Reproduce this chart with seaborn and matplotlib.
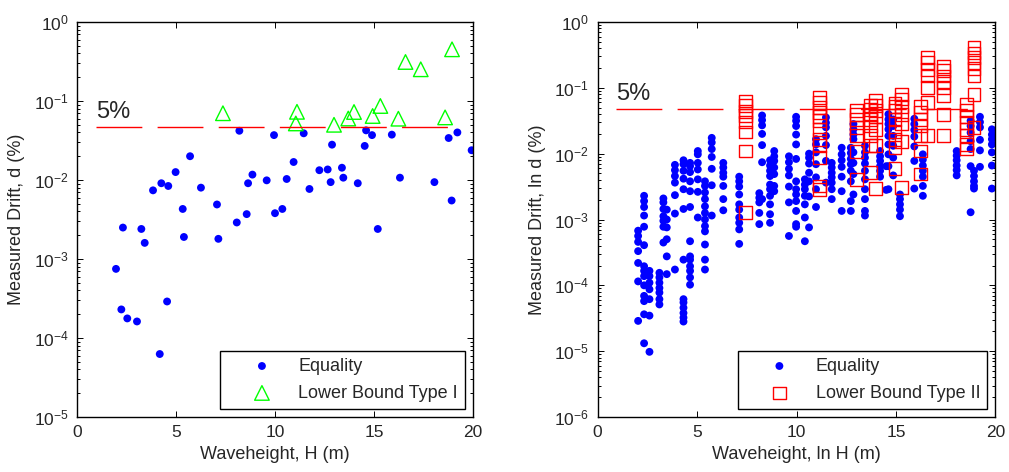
import numpy as np
import pandas as pd
import matplotlib
matplotlib.use('Agg')
import matplotlib.pyplot as plt
import seaborn as sns
from matplotlib.ticker import LogLocator, NullFormatter

# Left panel: waveheight H (m) vs measured drift d (%)
eq_H = [8.20, 9.95, 11.45, 12.88, 14.60, 14.90, 15.90, 14.53, 18.77, 19.21,
        19.93, 5.71, 4.98, 4.26, 4.61, 3.84, 6.26, 5.34, 7.07, 8.86,
        8.64, 9.58, 10.59, 10.94, 11.74, 12.24, 12.66, 12.81, 13.38, 13.45,
        14.18, 16.31, 18.05, 18.92, 8.57, 8.07, 10.00, 10.37, 2.32, 3.25,
        15.19, 5.40, 7.14, 3.42, 1.97, 4.55, 2.24, 2.54, 3.03, 4.18]
eq_d = [0.042, 0.037, 0.039, 0.028, 0.0425, 0.037, 0.0375, 0.027, 0.034, 0.040,
        0.0238, 0.020, 0.0126, 0.0091, 0.0084, 0.0074, 0.0080, 0.0043, 0.0049, 0.0117,
        0.0091, 0.0099, 0.0103, 0.0169, 0.0077, 0.0133, 0.0136, 0.0094, 0.0143, 0.0107,
        0.0091, 0.0107, 0.0094, 0.0055, 0.0037, 0.0029, 0.0038, 0.0043, 0.0025, 0.0024,
        0.0024, 0.0019, 0.0018, 0.0016, 0.00075, 0.00029, 0.00023, 0.000177, 0.000162, 0.0000627]
lb1_H = [7.37, 11.11, 11.05, 12.98, 13.70, 13.99, 14.93, 15.32, 16.23, 16.59, 17.36, 18.94, 18.59]
lb1_d = [0.070, 0.073, 0.052, 0.050, 0.060, 0.0726, 0.0646, 0.0865, 0.0597, 0.312, 0.252, 0.451, 0.062]

# Right panel: points come in columns (one H per column), drift read as log10 exponents
eq2_H = [2.04, 2.34, 2.61, 3.11, 3.31, 3.48, 3.89, 4.32, 4.65, 5.04,
         5.40, 5.74, 6.32, 7.12, 8.13, 8.27, 8.67, 8.88, 9.62, 9.98,
         10.42, 10.63, 10.98, 11.48, 11.77, 12.27, 12.73, 12.86, 13.44, 14.20,
         14.51, 14.62, 14.86, 15.20, 15.92, 16.35, 18.05, 18.75, 18.92, 19.22,
         19.82]
eq2_logd = [
    [-3.17, -3.25, -3.34, -3.48, -3.66, -3.94, -4.54],
    [-2.64, -2.72, -2.81, -2.94, -3.11, -3.39, -3.71, -3.78, -3.86, -4.0, -4.16, -4.24, -4.44, -4.88],
    [-3.78, -3.86, -3.96, -4.06, -4.21, -4.46, -5.01],
    [-3.81, -3.88, -3.96, -4.04, -4.11, -4.21, -4.29],
    [-2.68, -2.74, -2.84, -2.95, -3.02, -3.11, -3.35],
    [-2.85, -3.0, -3.12, -3.30, -3.56, -3.83],
    [-2.17, -2.25, -2.34, -2.44, -2.63, -2.91, -3.76],
    [-2.10, -2.16, -2.26, -2.38, -2.54, -2.84, -3.61, -4.21, -4.26, -4.34, -4.42, -4.49, -4.55],
    [-2.14, -2.19, -2.28, -2.42, -2.57, -2.81, -3.33, -3.56, -3.61, -3.71, -3.78, -3.88, -3.99],
    [-1.96, -2.01, -2.14, -2.24, -2.39, -2.58, -2.97],
    [-2.42, -2.49, -2.59, -2.69, -2.80, -2.90, -3.00, -3.10, -3.18, -3.38, -3.61, -3.76],
    [-1.76, -1.83, -1.93, -2.05, -2.23, -2.48, -2.94],
    [-2.14, -2.21, -2.29, -2.35, -2.49, -2.69, -2.86],
    [-2.35, -2.42, -2.50, -2.62, -2.77, -2.85, -2.97, -3.05, -3.15, -3.37],
    [-2.60, -2.67, -2.74, -2.90, -3.07],
    [-1.42, -1.49, -1.57, -1.70, -1.87, -2.13, -2.69],
    [-2.10, -2.18, -2.26, -2.34, -2.47, -2.54, -2.64, -2.77, -2.92, -3.05],
    [-1.96, -2.04, -2.11, -2.21, -2.31, -2.49, -2.57],
    [-2.04, -2.13, -2.23, -2.33, -2.50, -2.74, -3.25],
    [-1.44, -1.50, -1.58, -1.71, -1.86, -2.08, -2.42, -2.54, -2.62, -2.72, -2.87, -3.07, -3.11],
    [-2.39, -2.47, -2.54, -2.64, -2.77, -2.97, -3.33],
    [-2.0, -2.06, -2.15, -2.29, -2.42, -2.65, -3.12],
    [-1.78, -1.86, -1.98, -2.16, -2.36, -2.54, -2.81],
    [-1.45, -1.53, -1.60, -1.73, -1.87, -2.11, -2.44],
    [-2.14, -2.21, -2.29, -2.36, -2.44, -2.54, -2.69],
    [-1.91, -2.01, -2.10, -2.20, -2.35, -2.57, -2.87],
    [-1.91, -1.99, -2.08, -2.16, -2.26, -2.42, -2.72, -2.87],
    [-1.55, -1.63, -1.71, -1.78, -1.98, -2.14, -2.31, -2.62],
    [-1.88, -1.98, -2.06, -2.15, -2.26, -2.39, -2.54, -2.69, -2.87, -2.94],
    [-1.96, -2.04, -2.11, -2.19, -2.26, -2.35],
    [-2.19, -2.55],
    [-1.40, -1.48, -1.55, -1.63, -1.73, -1.86, -2.01, -2.19, -2.54],
    [-1.48, -1.58, -1.73, -1.88, -2.06, -2.33],
    [-2.62, -2.69, -2.77, -2.85, -2.95],
    [-1.47, -1.55, -1.64, -1.74, -1.89, -2.11, -2.53],
    [-2.01, -2.09, -2.18, -2.26, -2.35, -2.49, -2.64],
    [-1.96, -2.03, -2.10, -2.18, -2.25, -2.33],
    [-1.50, -1.58, -1.68, -1.81, -1.93, -2.19, -2.89],
    [-2.26, -2.34, -2.42, -2.49, -2.53],
    [-1.44, -1.52, -1.60, -1.79, -1.95, -2.20],
    [-1.63, -1.71, -1.78, -1.86, -1.98, -2.18, -2.53],
]
lb2_H = [7.43, 11.15, 13.02, 13.73, 13.99, 14.95, 15.29, 16.24, 16.59, 17.37, 18.55, 18.92]
lb2_logd = [
    [-1.20, -1.27, -1.36, -1.42, -1.52, -1.67, -1.96, -2.89],
    [-1.15, -1.22, -1.30, -1.37, -1.43, -1.50, -1.63, -1.78, -1.88, -2.06, -2.49, -2.54],
    [-1.34, -1.40, -1.48, -1.60, -1.73, -1.97, -2.39],
    [-1.27, -1.33, -1.40, -1.48, -1.58, -1.73, -1.88, -2.29],
    [-1.19, -1.27, -1.34, -1.44, -1.63, -1.88, -2.53],
    [-1.23, -1.28, -1.35, -1.48, -1.66, -1.78, -1.91, -2.23],
    [-1.10, -1.17, -1.28, -1.40, -1.55, -1.82, -2.52],
    [-1.28, -1.38, -1.48, -1.58, -1.73, -1.96, -2.31],
    [-0.54, -0.62, -0.72, -0.82, -1.00, -1.22, -1.72],
    [-0.67, -0.74, -0.82, -0.90, -1.00, -1.12, -1.40, -1.73],
    [-1.25, -1.35, -1.44, -1.53, -1.63, -1.73, -1.86, -1.93],
    [-0.39, -0.47, -0.54, -0.62, -0.71, -0.82, -1.10, -1.60],
]

# 5% drift limit line
limit_d = 0.047
limit_H = [0.95, 19.0]


def columns_to_frame(hs, logds):
    rows = [(h, 10.0 ** v) for h, col in zip(hs, logds) for v in col]
    return pd.DataFrame(rows, columns=['H', 'd'])


left_eq = pd.DataFrame({'H': eq_H, 'd': eq_d})
left_lb = pd.DataFrame({'H': lb1_H, 'd': lb1_d})
right_eq = columns_to_frame(eq2_H, eq2_logd)
right_lb = columns_to_frame(lb2_H, lb2_logd)

sns.set_style('white')
plt.rcParams['font.family'] = ['Liberation Sans', 'DejaVu Sans']
plt.rcParams['mathtext.fontset'] = 'custom'
plt.rcParams['mathtext.rm'] = 'Liberation Sans'
plt.rcParams['mathtext.it'] = 'Liberation Sans:italic'

fig = plt.figure(figsize=(10.09, 4.72), dpi=100)
ax1 = fig.add_axes([0.0763, 0.1165, 0.3925, 0.8369])
ax2 = fig.add_axes([0.5922, 0.1165, 0.3944, 0.8369])


def style_axis(ax, ymin, xlabel, ylabel):
    ax.set_yscale('log')
    ax.set_xlim(0, 20)
    ax.set_ylim(ymin, 1)
    ax.set_xticks([0, 5, 10, 15, 20])
    ax.yaxis.set_major_locator(LogLocator(base=10, numticks=12))
    ax.yaxis.set_minor_locator(LogLocator(base=10, subs=np.arange(2, 10), numticks=12))
    ax.yaxis.set_minor_formatter(NullFormatter())
    ax.tick_params(which='both', direction='in', top=True, right=True, left=True,
                   bottom=True, labelsize=12.5, width=0.7, color='black')
    ax.tick_params(which='major', length=4, pad=6)
    # minor ticks carry no labels at all
    ax.tick_params(which='minor', length=2.5, labelleft=False, labelbottom=False)
    for sp in ax.spines.values():
        sp.set_color('black')
        sp.set_linewidth(1.0)
    ax.set_xlabel(xlabel, fontsize=13, labelpad=4)
    ax.set_ylabel(ylabel, fontsize=13, labelpad=6)


def draw_limit(ax):
    ax.plot(limit_H, [limit_d, limit_d], color='red', lw=1, linestyle=(0, (33, 11)))
    ax.annotate('5%', xy=(limit_H[0], limit_d), xytext=(0, 3), textcoords='offset points',
                fontsize=17, ha='left', va='bottom')


# Left panel
draw_limit(ax1)
sns.scatterplot(data=left_eq, x='H', y='d', ax=ax1, color='blue', marker='o',
                s=32, edgecolor='none', label='Equality')
sns.scatterplot(data=left_lb, x='H', y='d', ax=ax1, marker='^', s=110,
                facecolors='none', edgecolor=(0, 1, 0), linewidth=1,
                label='Lower Bound Type I')
style_axis(ax1, 1e-5, 'Waveheight, H (m)', 'Measured Drift, d (%)')

# Right panel
draw_limit(ax2)
sns.scatterplot(data=right_eq, x='H', y='d', ax=ax2, color='blue', marker='o',
                s=32, edgecolor='none', label='Equality')
sns.scatterplot(data=right_lb, x='H', y='d', ax=ax2, marker='s', s=85,
                facecolors='none', edgecolor='red', linewidth=1,
                label='Lower Bound Type II')
style_axis(ax2, 1e-6, 'Waveheight, ln H (m)', 'Measured Drift, ln d (%)')

for ax in (ax1, ax2):
    leg = ax.legend(loc='lower right', fontsize=13, frameon=True, fancybox=False,
                    framealpha=1, edgecolor='black', borderpad=0.4,
                    handlelength=3.8, handletextpad=0.1, borderaxespad=0.45,
                    labelspacing=0.55)
    leg.get_frame().set_linewidth(1.0)

fig.savefig('out.png', dpi=100)
